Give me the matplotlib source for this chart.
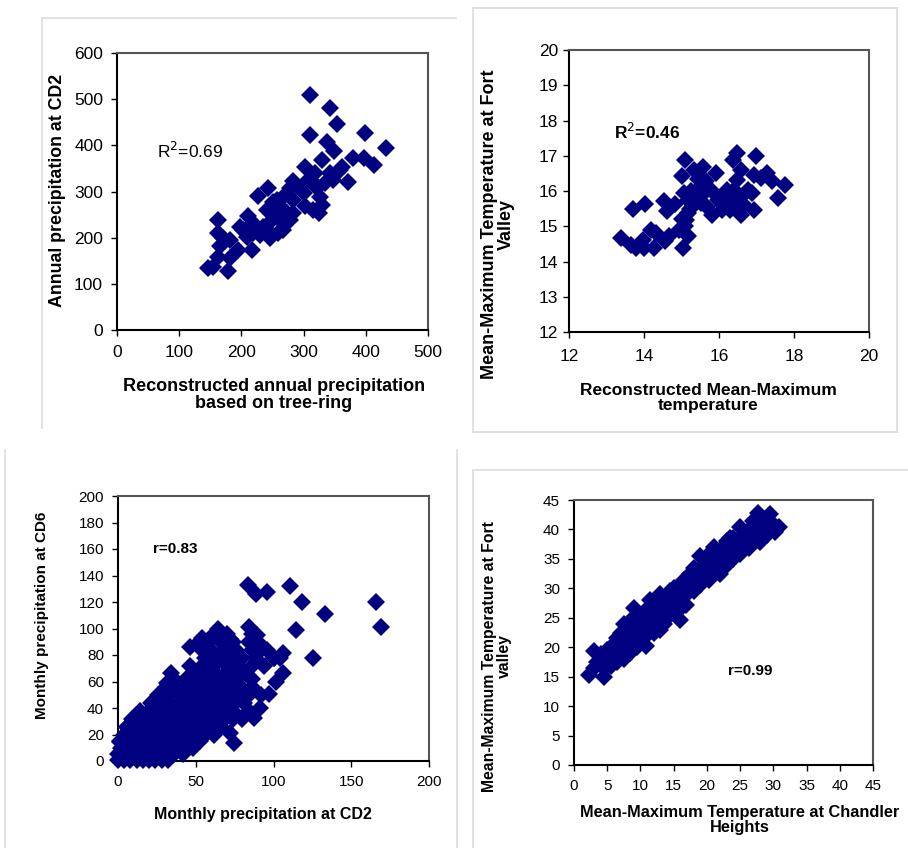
import matplotlib.pyplot as plt
from matplotlib.lines import Line2D

plt.rcParams['font.family'] = ['Liberation Sans', 'DejaVu Sans']

# panel 1: annual precipitation, reconstructed (tree-ring) vs CD2
recon_precip = [310, 342, 354, 310, 399, 433, 338, 349, 380, 397,
                413, 372, 358, 302, 329, 318, 283, 278, 301, 302,
                315, 324, 329, 321, 342, 348, 243, 227, 251, 262,
                273, 257, 246, 235, 219, 211, 203, 198, 209, 217,
                195, 246, 267, 278, 283, 163, 163, 171, 182, 166,
                163, 182, 179, 147, 155, 230, 241, 257, 267, 289,
                307, 316, 334, 326, 361, 283, 219, 241, 259, 267]
cd2_annual = [510, 481, 447, 423, 427, 394, 408, 387, 372, 372,
              358, 320, 347, 354, 369, 340, 322, 307, 296, 268,
              260, 253, 271, 307, 340, 325, 307, 291, 278, 268,
              253, 246, 235, 224, 231, 246, 217, 224, 202, 174,
              174, 199, 217, 239, 253, 239, 210, 199, 195, 181,
              159, 155, 127, 134, 137, 206, 217, 282, 289, 311,
              325, 318, 318, 289, 354, 282, 210, 260, 210, 231]

# panel 2: mean-maximum temperature, reconstructed vs Fort Valley
recon_temp = [13.38, 13.71, 14.02, 13.64, 13.78, 14.00, 13.96, 14.18, 14.33, 14.27,
              14.55, 14.67, 14.53, 14.62, 14.82, 15.00, 15.08, 15.33, 15.56, 15.91,
              15.64, 14.93, 15.16, 15.05, 15.11, 15.16, 15.16, 15.33, 15.47, 15.60,
              15.51, 15.78, 15.69, 15.82, 16.04, 16.09, 16.31, 16.36, 16.49, 16.58,
              16.49, 16.40, 16.58, 16.58, 16.49, 16.76, 16.89, 16.93, 16.98, 16.93,
              17.11, 17.29, 17.42, 17.76, 17.56, 16.67, 16.18, 15.96, 15.24, 15.38,
              15.07, 16.22, 15.30, 15.42, 15.50, 15.22, 15.45, 15.10, 15.02, 16.10,
              16.30]
fv_temp = [14.66, 15.48, 15.64, 14.47, 14.38, 14.38, 14.62, 14.90, 14.80, 14.38,
           14.57, 14.73, 15.73, 15.42, 15.64, 16.43, 16.88, 16.60, 16.69, 16.50,
           16.27, 14.90, 14.71, 14.38, 15.18, 15.37, 15.75, 15.84, 16.03, 15.94,
           15.65, 16.03, 15.56, 15.32, 15.84, 15.47, 15.65, 16.88, 17.07, 16.60,
           16.32, 16.03, 15.84, 15.32, 15.61, 16.03, 15.94, 15.47, 16.98, 16.46,
           16.36, 16.50, 16.27, 16.17, 15.80, 15.61, 15.75, 15.75, 16.01, 15.70,
           15.94, 16.03, 15.60, 15.90, 16.10, 15.50, 16.35, 15.00, 15.20, 15.60,
           15.45]

# panel 3: monthly precipitation CD2 vs CD6 (dense cloud read row by row)
cloud_cd6 = [1, 5, 10, 15, 20, 26, 32, 38, 44, 50, 56, 62, 66, 72, 78, 84, 90, 96, 100]
cloud_cd2 = [[0, 4, 8, 12, 16, 20, 24, 28, 32],
             [0, 5, 10, 15, 20, 25, 30, 36, 42],
             [2, 7, 12, 18, 24, 30, 36, 42, 48],
             [1, 6, 11, 17, 23, 29, 35, 41, 47, 53],
             [4, 9, 14, 20, 26, 32, 38, 44, 50, 56, 62],
             [6, 12, 18, 24, 30, 36, 42, 48, 54, 60, 66],
             [9, 15, 21, 27, 33, 39, 45, 51, 57, 63, 69, 74, 80],
             [14, 20, 26, 32, 38, 44, 50, 56, 62, 68, 74, 84],
             [21, 27, 33, 39, 45, 51, 57, 63, 69, 75, 81],
             [26, 33, 40, 46, 52, 58, 64, 70, 76, 84, 92],
             [31, 37, 43, 49, 55, 61, 67, 73, 79, 86],
             [36, 44, 52, 58, 64, 70, 76, 86],
             [50, 57, 63, 69, 75, 82],
             [46, 54, 62, 70, 78, 86, 94],
             [56, 64, 72, 80, 88, 100, 104],
             [54, 60, 68, 76, 86, 92, 96],
             [52, 58, 66, 74, 84, 90],
             [62, 70, 86],
             [64]]
outlier_cd2 = [83.3, 88.9, 95.7, 110.3, 118.6, 133.2, 166.0, 169.2, 114.3, 125.1,
               84.2, 89.1, 106.4, 100.0, 106.4, 101.6, 96.8, 91.4, 87.2, 74.3,
               72.2, 46.0, 53.9, 72.2, 31.5, 34.4, 5.8, 1.5]
outlier_cd6 = [132.7, 125.9, 127.6, 131.9, 120.1, 110.8, 120.1, 101.3, 98.7, 77.4,
               100.8, 95.0, 81.2, 77.4, 66.1, 59.8, 50.5, 39.7, 32.2, 13.3,
               20.9, 86.2, 92.5, 91.7, 59.0, 66.1, 25.9, 14.6]

# panel 4: monthly mean-max temperature Chandler Heights vs Fort Valley
chandler = [2.3, 3.0, 3.0, 3.5, 4.0, 4.5, 4.5, 5.0, 5.0, 5.5,
            6.0, 6.0, 6.5, 6.5, 7.0, 7.0, 7.5, 7.5, 8.0, 8.0,
            8.5, 8.5, 9.0, 9.0, 9.5, 10.0, 10.0, 10.5, 10.9, 11.0,
            11.5, 11.5, 12.0, 12.5, 12.5, 13.0, 13.5, 13.5, 14.0, 14.5,
            15.0, 15.0, 15.5, 16.0, 16.0, 16.5, 16.9, 17.0, 17.5, 18.0,
            18.0, 18.5, 19.0, 19.0, 19.5, 20.0, 20.3, 20.5, 21.0, 21.5,
            22.0, 22.0, 22.5, 22.9, 23.0, 23.5, 24.0, 24.0, 24.5, 25.0,
            25.0, 25.5, 26.0, 26.3, 26.5, 27.0, 27.0, 27.7, 28.0, 28.0,
            28.5, 29.0, 29.5, 29.5, 30.0, 30.2, 30.8,
            4.0, 5.5, 7.0, 8.0, 9.0, 10.0, 11.0, 12.0, 13.0, 14.0,
            15.0, 16.0, 17.0, 18.0, 19.0, 20.0, 21.0, 22.0, 23.0, 24.0,
            25.0, 26.0, 27.0, 28.0, 29.0, 30.0,
            11.0, 12.0, 13.0, 14.0, 14.5, 15.5, 16.0, 17.0, 18.0, 19.0,
            13.0, 12.0, 9.5, 8.0, 21.0, 23.5]
fort_valley = [15.3, 16.5, 19.3, 17.5, 18.8, 14.9, 16.5, 17.8, 19.5, 16.8,
               18.5, 20.5, 17.5, 21.5, 19.5, 22.5, 18.0, 24.0, 20.5, 22.5,
               19.0, 24.5, 21.5, 26.6, 23.0, 21.0, 25.0, 23.5, 20.2, 26.5,
               24.5, 28.0, 26.0, 24.0, 27.5, 25.5, 28.0, 24.0, 26.5, 29.5,
               27.5, 30.0, 26.0, 24.6, 29.0, 31.5, 27.2, 30.0, 32.5, 29.5,
               31.5, 33.0, 30.5, 35.5, 32.5, 34.5, 31.4, 36.0, 33.0, 35.0,
               32.5, 36.5, 34.5, 33.8, 38.0, 36.0, 35.0, 38.5, 37.0, 35.8,
               40.5, 38.5, 37.5, 36.8, 40.0, 38.5, 41.5, 42.8, 40.0, 37.8,
               41.5, 39.0, 42.6, 40.5, 41.0, 39.5, 40.5,
               17.0, 18.5, 21.0, 19.0, 23.5, 23.0, 24.0, 24.5, 27.0, 28.0,
               29.0, 27.0, 31.0, 33.5, 33.0, 33.0, 35.0, 34.0, 36.0, 37.0,
               38.5, 39.0, 39.5, 41.0, 41.5, 40.0,
               22.0, 22.5, 23.0, 25.0, 27.0, 28.5, 30.5, 29.0, 32.0, 31.5,
               29.0, 27.5, 20.0, 21.5, 37.0, 38.5]

W, H = 908, 848
NAVY = '#000080'
fig = plt.figure(figsize=(W / 100, H / 100), dpi=100)


def add_panel(left, top, right, bottom):
    return fig.add_axes([left / W, 1 - bottom / H, (right - left) / W, (bottom - top) / H])


def style(ax, xlim, ylim, xticks, yticks, size, xpad, ypad):
    ax.set_xlim(xlim)
    ax.set_ylim(ylim)
    ax.set_xticks(xticks)
    ax.set_yticks(yticks)
    ax.tick_params(direction='out', length=4, width=1, labelsize=size, color='black')
    ax.tick_params(axis='x', pad=xpad)
    ax.tick_params(axis='y', pad=ypad)
    for side in ['left', 'bottom']:
        ax.spines[side].set_linewidth(1.5)
        ax.spines[side].set_color('black')
    for side in ['top', 'right']:
        ax.spines[side].set_linewidth(1.5)
        ax.spines[side].set_color('#555555')


def dots(ax, x, y):
    ax.plot(x, y, 'D', ms=9.5, mew=0, color=NAVY, clip_on=False, zorder=3)


def label(x, y, s, size, rot=0, weight='bold'):
    fig.text(x / W, 1 - y / H, s, fontsize=size, fontweight=weight, rotation=rot,
             ha='center', va='center', multialignment='center', linespacing=1.0)


def line(x0, y0, x1, y1):
    fig.add_artist(Line2D([x0 / W, x1 / W], [1 - y0 / H, 1 - y1 / H],
                          color='#dddddd', lw=1.2))


# light frames around the panels
line(42, 18, 456, 18)
line(42, 18, 42, 428)
line(473, 8, 897, 8)
line(473, 8, 473, 432)
line(473, 432, 897, 432)
line(897, 8, 897, 432)
line(5, 450, 5, 848)
line(457, 450, 457, 848)
line(473, 470, 908, 470)
line(473, 470, 473, 848)

# panel 1
ax1 = add_panel(117, 53, 428, 330)
style(ax1, (0, 500), (0, 600), range(0, 501, 100), range(0, 601, 100), 12.5, 7, 6)
dots(ax1, recon_precip, cd2_annual)
ax1.text(64, 388, 'R$^2$=0.69', fontsize=12.5, va='center')
label(57, 190, 'Annual precipitation at CD2', 12.8, rot=90)
label(274, 395, 'Reconstructed annual precipitation\nbased on tree-ring', 13)

# panel 2
ax2 = add_panel(569, 50, 869, 332)
style(ax2, (12, 20), (12, 20), range(12, 21, 2), range(12, 21, 1), 12.5, 8, 4)
dots(ax2, recon_temp, fv_temp)
ax2.text(13.2, 17.67, 'R$^2$=0.46', fontsize=12.5, fontweight='bold', va='center')
label(498, 224, 'Mean-Maximum Temperature at Fort\nValley', 13, rot=90)
label(708, 398, 'Reconstructed Mean-Maximum\ntemperature', 12.5)

# panel 3
ax3 = add_panel(118, 496, 429, 761)
style(ax3, (0, 200), (0, 200), range(0, 201, 50), range(0, 201, 20), 11, 6, 6)
cloud_x = [x for xs in cloud_cd2 for x in xs]
cloud_y = [y for y, xs in zip(cloud_cd6, cloud_cd2) for x in xs]
dots(ax3, cloud_x + outlier_cd2, cloud_y + outlier_cd6)
ax3.text(22.5, 160, 'r=0.83', fontsize=11, fontweight='bold', va='center')
label(42, 615, 'Monthly precipitation at CD6', 11, rot=90)
label(263, 815, 'Monthly precipitation at CD2', 11.5)

# panel 4
ax4 = add_panel(574, 500, 873, 765)
style(ax4, (0, 45), (0, 45), range(0, 46, 5), range(0, 46, 5), 11, 6, 6)
dots(ax4, chandler, fort_valley)
ax4.text(23.2, 16.0, 'r=0.99', fontsize=11, fontweight='bold', va='center')
label(497, 656, 'Mean-Maximum Temperature at Fort\nvalley', 11.3, rot=90)
label(740, 820, 'Mean-Maximum Temperature at Chandler\nHeights', 11.8)

fig.savefig('out.png', dpi=100)
